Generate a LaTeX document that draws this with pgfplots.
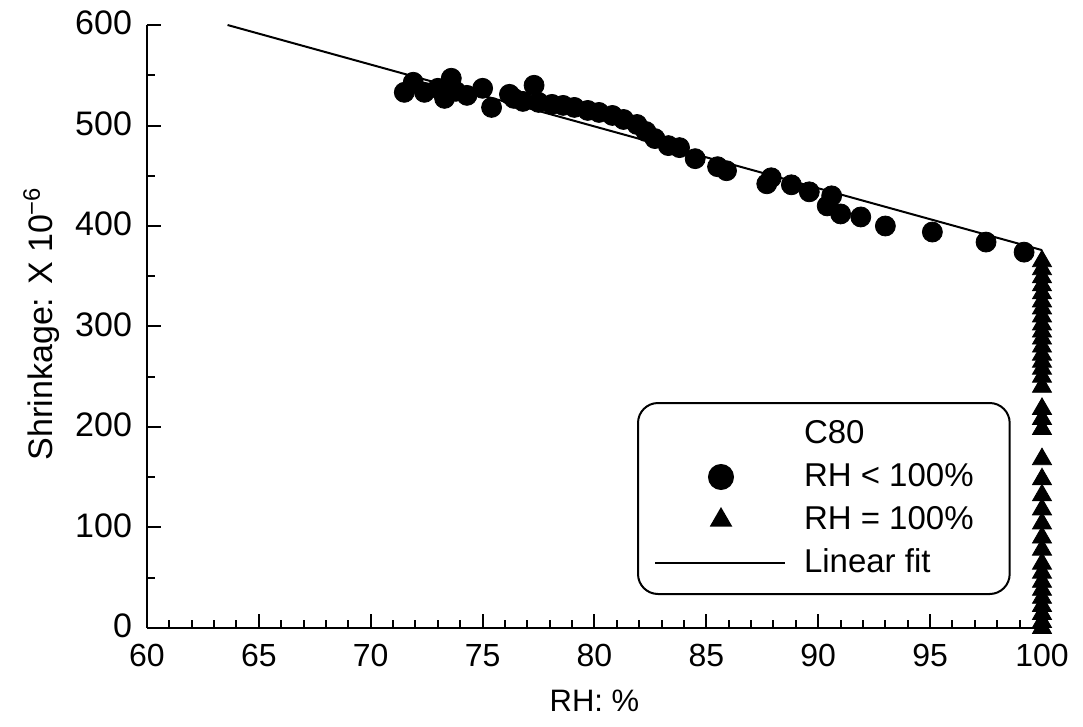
\documentclass[border=0pt]{standalone}
\usepackage{pgfplots}
\pgfplotsset{compat=1.18}
\usepackage{fontspec}
\setmainfont{Liberation Sans}
\begin{document}
\begin{tikzpicture}
\useasboundingbox (-73.5pt,-49.5pt) rectangle (468pt,314pt);
\begin{axis}[
  at={(0pt,0pt)}, anchor=south west,
  scale only axis,
  width=447.5pt, height=301.5pt,
  xmin=60, xmax=100, ymin=0, ymax=600,
  axis x line=bottom, axis y line=left,
  axis line style={-, line width=1.2pt},
  xtick={60,65,...,100}, ytick={0,100,...,600},
  minor x tick num=4, minor y tick num=1,
  tick align=inside,
  major tick length=7pt, minor tick length=4pt,
  tick style={line width=1pt, black},
  /pgf/number format/assume math mode=true,
  xticklabel style={font=\fontsize{16}{19}\selectfont, yshift=-4.5pt},
  yticklabel style={font=\fontsize{17}{20}\selectfont, xshift=-4pt, yshift=1pt},
  xlabel={RH: \%},
  ylabel={Shrinkage: X 10\textsuperscript{−6}},
  xlabel style={font=\fontsize{15.5}{18}\selectfont, at={(axis description cs:0.5,-0.12)}, anchor=center},
  ylabel style={font=\fontsize{17}{20}\selectfont, at={(axis description cs:-0.118,0.505)}, anchor=center},
  clip=false,
  legend style={at={(axis description cs:0.5475,0.0547)}, anchor=south west,
    draw=black, line width=1pt, rounded corners=10pt,
    inner xsep=8pt, inner ysep=6pt,
    font=\fontsize{16.5}{19}\selectfont,
    cells={anchor=west}, row sep=2.5pt, column sep=8pt,
    nodes={inner sep=1pt, text height=13pt, text depth=4pt}},
]
\addlegendimage{empty legend}
\addlegendentry{C80}

\addplot[only marks, mark=*, mark size=5pt, black, fill=black,
  legend image code/.code={\path (0pt,0pt) (65pt,0pt);
    \draw[sharp corners, black, fill=black, mark=*, mark size=6pt, only marks] plot coordinates {(33pt,0pt)};}]
coordinates {
(71.5,533) (71.9,543) (72.4,533) (73.0,537) (73.3,527) (73.6,547)
(73.8,534) (74.3,530) (75.0,537) (75.4,518) (76.2,531) (76.4,527)
(77.3,540) (76.8,524) (77.5,523) (78.1,521) (78.6,520) (79.1,518)
(79.7,515) (80.2,513) (80.8,510) (81.3,506) (81.9,501) (82.3,494)
(82.7,487) (83.3,480) (83.8,478) (84.5,467) (85.5,459) (85.9,455)
(87.7,442) (87.9,448) (88.8,441) (89.6,434) (90.6,430) (90.4,420)
(91.0,412) (91.9,409) (93.0,400) (95.1,394) (97.5,384) (99.2,374)
};
\addlegendentry{RH < 100\%\rule{9pt}{0pt}}

\addplot[only marks, mark=triangle*, mark size=5.5pt, black, fill=black,
  legend image code/.code={\path (0pt,0pt) (65pt,0pt);
    \draw[sharp corners, black, fill=black, mark=triangle*, mark size=5.5pt, only marks] plot coordinates {(33pt,0pt)};}]
coordinates {
(100,365) (100,357) (100,349) (100,341) (100,333) (100,325) (100,318)
(100,310) (100,302) (100,295) (100,288) (100,280) (100,272) (100,265)
(100,258) (100,250) (100,240) (100,218) (100,208) (100,198) (100,168)
(100,148) (100,132) (100,118) (100,104) (100,90) (100,78) (100,64)
(100,55) (100,46) (100,38) (100,30) (100,22) (100,14) (100,6) (100,0)
};
\addlegendentry{RH = 100\%}

\addplot[black, line width=1pt, no marks,
  legend image code/.code={\draw[sharp corners, black, line width=1pt] (0pt,0pt) -- (65pt,0pt);}]
coordinates {(63.6,600) (100,376)};
\addlegendentry{Linear fit}
\end{axis}
\end{tikzpicture}
\end{document}
